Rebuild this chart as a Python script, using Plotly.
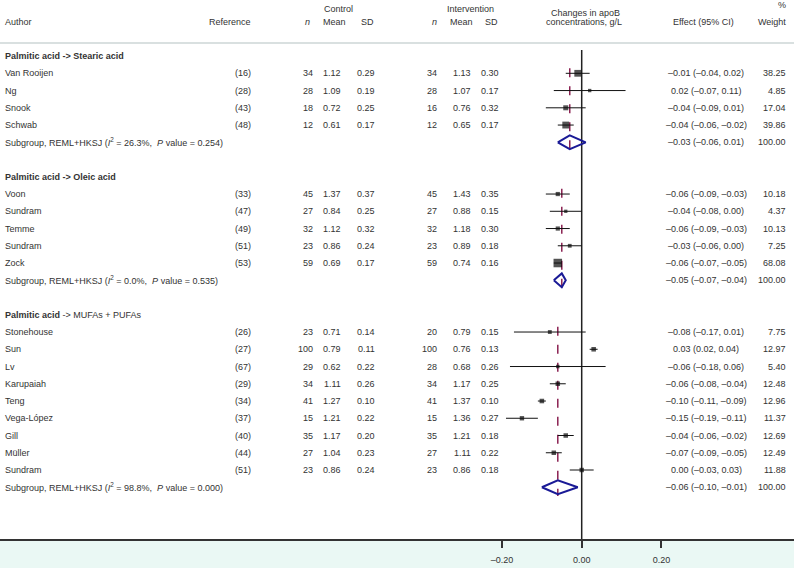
import plotly.graph_objects as go

W, H = 794, 568

# ---------------- data ----------------
group_titles = ["<b>Palmitic acid -&gt; Stearic acid</b>",
                "<b>Palmitic acid -&gt; Oleic acid</b>",
                "<b>Palmitic acid</b> -&gt; MUFAs + PUFAs"]

study_group = [0, 0, 0, 0,
               1, 1, 1, 1, 1,
               2, 2, 2, 2, 2, 2, 2, 2, 2]
authors = ["Van Rooijen", "Ng", "Snook", "Schwab",
           "Voon", "Sundram", "Temme", "Sundram", "Zock",
           "Stonehouse", "Sun", "Lv", "Karupaiah", "Teng", "Vega-López", "Gill", "Müller", "Sundram"]
references = ["(16)", "(28)", "(43)", "(48)",
              "(33)", "(47)", "(49)", "(51)", "(53)",
              "(26)", "(27)", "(67)", "(29)", "(34)", "(37)", "(40)", "(44)", "(51)"]
ctrl_n = [34, 28, 18, 12, 45, 27, 32, 23, 59, 23, 100, 29, 34, 41, 15, 35, 27, 23]
ctrl_mean = [1.12, 1.09, 0.72, 0.61, 1.37, 0.84, 1.12, 0.86, 0.69,
             0.71, 0.79, 0.62, 1.11, 1.27, 1.21, 1.17, 1.04, 0.86]
ctrl_sd = [0.29, 0.19, 0.25, 0.17, 0.37, 0.25, 0.32, 0.24, 0.17,
           0.14, 0.11, 0.22, 0.26, 0.10, 0.22, 0.20, 0.23, 0.24]
int_n = [34, 28, 16, 12, 45, 27, 32, 23, 59, 20, 100, 28, 34, 41, 15, 35, 27, 23]
int_mean = [1.13, 1.07, 0.76, 0.65, 1.43, 0.88, 1.18, 0.89, 0.74,
            0.79, 0.76, 0.68, 1.17, 1.37, 1.36, 1.21, 1.11, 0.86]
int_sd = [0.30, 0.17, 0.32, 0.17, 0.35, 0.15, 0.30, 0.18, 0.16,
          0.15, 0.13, 0.26, 0.25, 0.10, 0.27, 0.18, 0.22, 0.18]
effect = [-0.01, 0.02, -0.04, -0.04, -0.06, -0.04, -0.06, -0.03, -0.06,
          -0.08, 0.03, -0.06, -0.06, -0.10, -0.15, -0.04, -0.07, 0.00]
ci_low = [-0.04, -0.07, -0.09, -0.06, -0.09, -0.08, -0.09, -0.06, -0.07,
          -0.17, 0.02, -0.18, -0.08, -0.11, -0.19, -0.06, -0.09, -0.03]
ci_high = [0.02, 0.11, 0.01, -0.02, -0.03, 0.00, -0.03, 0.00, -0.05,
           0.01, 0.04, 0.06, -0.04, -0.09, -0.11, -0.02, -0.05, 0.03]
weight = [38.25, 4.85, 17.04, 39.86, 10.18, 4.37, 10.13, 7.25, 68.08,
          7.75, 12.97, 5.40, 12.48, 12.96, 11.37, 12.69, 12.49, 11.88]

sub_effect = [-0.03, -0.05, -0.06]
sub_low = [-0.06, -0.07, -0.10]
sub_high = [0.01, -0.04, -0.01]
sub_i2 = ["26.3%", "0.0%", "98.8%"]
sub_p = ["0.254", "0.535", "0.000"]
sub_weight = [100.00, 100.00, 100.00]

tick_vals = [-0.20, 0.00, 0.20]

# ---------------- layout helpers ----------------
TXT = "#333333"
FONT = "Liberation Sans, Arial, sans-serif"
FS = 9


def fmt(v):
    s = f"{v:.2f}"
    if s == "-0.00":
        s = "0.00"
    return s.replace("-", "\u2013")


def px(x):
    return x / W


# assign rows
rows_title, rows_study, rows_sub = [], [], []
r = 0
for g in range(len(group_titles)):
    rows_title.append(r)
    r += 1
    for i, sg in enumerate(study_group):
        if sg == g:
            rows_study.append(r)
            r += 1
    rows_sub.append(r)
    r += 2

annotations = []


def add_text(x, y, text, anchor="left", size=FS, color=TXT):
    annotations.append(dict(x=px(x), y=y, xref="paper", yref="y", text=text,
                            showarrow=False, xanchor=anchor, yanchor="middle",
                            font=dict(family=FONT, size=size, color=color)))


# header
HY1, HY2 = -2.7, -2.0
add_text(3, HY2, "Author")
add_text(253, HY2, "Reference", "right")
add_text(338, HY1, "Control", "center")
add_text(312, HY2, "<i>n</i>", "right")
add_text(334, HY2, "Mean", "center")
add_text(376, HY2, "SD", "right")
add_text(470, HY1, "Intervention", "center")
add_text(439, HY2, "<i>n</i>", "right")
add_text(461, HY2, "Mean", "center")
add_text(500, HY2, "SD", "right")
add_text(585, -2.52, "Changes in apoB", "center")
add_text(584, -1.98, "concentrations, g/L", "center")
add_text(703, HY2, "Effect (95% CI)", "center")
add_text(788, -2.96, "%", "right")
add_text(788, HY2, "Weight", "right")

# group titles
for g, t in enumerate(group_titles):
    add_text(3, rows_title[g], t)

# study rows
for i in range(len(authors)):
    y = rows_study[i]
    add_text(3, y, authors[i])
    add_text(253, y, references[i], "right")
    add_text(315, y, str(ctrl_n[i]), "right")
    add_text(343, y, f"{ctrl_mean[i]:.2f}", "right")
    add_text(377, y, f"{ctrl_sd[i]:.2f}", "right")
    add_text(439.5, y, str(int_n[i]), "right")
    add_text(472.5, y, f"{int_mean[i]:.2f}", "right")
    add_text(501, y, f"{int_sd[i]:.2f}", "right")
    add_text(706, y, f"{fmt(effect[i])} ({fmt(ci_low[i])}, {fmt(ci_high[i])})", "center")
    add_text(788, y, f"{weight[i]:.2f}", "right")

# subgroup rows
for g in range(len(group_titles)):
    y = rows_sub[g]
    add_text(3, y, f"Subgroup, REML+HKSJ (<i>I</i><sup>2</sup> = {sub_i2[g]},  <i>P</i> value = {sub_p[g]})")
    add_text(706, y, f"{fmt(sub_effect[g])} ({fmt(sub_low[g])}, {fmt(sub_high[g])})", "center")
    add_text(788, y, f"{sub_weight[g]:.2f}", "right")

fig = go.Figure()

# CI lines
cx, cy = [], []
for i in range(len(authors)):
    cx += [ci_low[i], ci_high[i], None]
    cy += [rows_study[i], rows_study[i], None]
fig.add_trace(go.Scatter(x=cx, y=cy, mode="lines", line=dict(color="#111111", width=1),
                         hoverinfo="skip", showlegend=False))

# squares
sizes = [1.5 + 0.85 * w ** 0.5 for w in weight]
fig.add_trace(go.Scatter(x=effect, y=rows_study, mode="markers",
                         marker=dict(symbol="square", size=sizes, color="#0a0a0a",
                                     line=dict(width=0)),
                         showlegend=False))

# diamonds
dx, dy = [], []
for g in range(len(group_titles)):
    y = rows_sub[g]
    dx += [sub_low[g], sub_effect[g], sub_high[g], sub_effect[g], sub_low[g], None]
    dy += [y, y - 0.4, y, y + 0.4, y, None]
fig.add_trace(go.Scatter(x=dx, y=dy, mode="lines", line=dict(color="#1a1a96", width=2),
                         hoverinfo="skip", showlegend=False))

shapes = []
# header separator
shapes.append(dict(type="line", xref="paper", yref="y", x0=0, x1=1, y0=-0.755, y1=-0.755,
                   line=dict(color="#cdd6d6", width=1.5)))
# zero line
shapes.append(dict(type="line", xref="x", yref="y", x0=0, x1=0, y0=-0.35, y1=28,
                   line=dict(color="#222222", width=1.5), layer="below"))
# subgroup dashed lines
for g in range(len(group_titles)):
    first = rows_title[g] + 1
    shapes.append(dict(type="line", xref="x", yref="y", x0=sub_effect[g], x1=sub_effect[g],
                       y0=first - 0.3, y1=rows_sub[g] + 0.5,
                       line=dict(color="#8b2252", width=1.5, dash="dash"), layer="below"))

zero_px = 581.7
scale = 398.5
fig.update_layout(
    width=W, height=H,
    margin=dict(l=0, r=0, t=0, b=29),
    paper_bgcolor="#eaf8f4",
    plot_bgcolor="white",
    showlegend=False,
    annotations=annotations,
    shapes=shapes,
    xaxis=dict(range=[-zero_px / scale, (W - zero_px) / scale], domain=[0, 1],
               showgrid=False, zeroline=False, showline=True, linecolor="#333333", linewidth=1.5,
               ticks="outside", ticklen=7, tickwidth=1.5, tickcolor="#333333",
               tickvals=tick_vals, ticktext=[fmt(v) for v in tick_vals],
               tickfont=dict(family=FONT, size=FS, color=TXT), ticklabelstandoff=4,
               fixedrange=True),
    yaxis=dict(range=[28.0, -3.25], showgrid=False, zeroline=False, showline=False,
               showticklabels=False, ticks="", fixedrange=True),
)

fig.write_html("out.html", config={"displayModeBar": False},
               post_script="document.body.style.margin='0px';document.body.style.padding='0px';document.body.style.overflow='hidden';")
